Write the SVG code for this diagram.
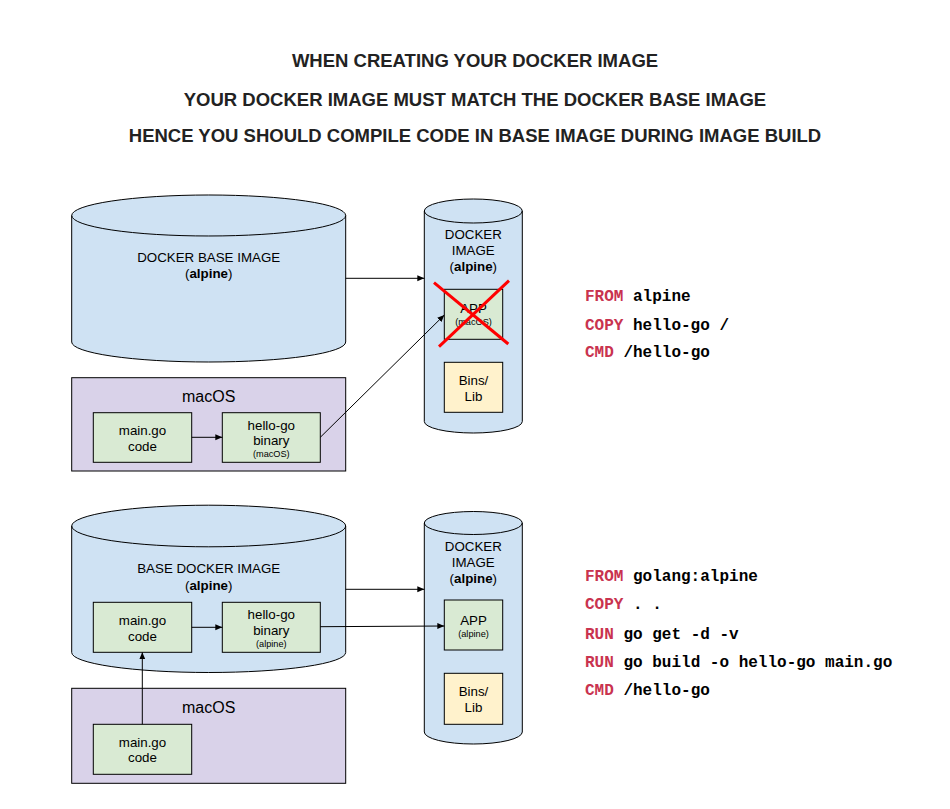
<svg xmlns="http://www.w3.org/2000/svg" width="950" height="809" viewBox="0 0 950 809">
<defs>
<marker id="ah" markerWidth="8" markerHeight="8" refX="7" refY="4" orient="auto" markerUnits="userSpaceOnUse">
<path d="M0,1 L7,4 L0,7 Z" fill="#000"/>
</marker>
<style>
.t{font-family:"Liberation Sans",Arial,sans-serif;fill:#000;text-anchor:middle}
.title{font-family:"Liberation Sans",Arial,sans-serif;font-weight:bold;font-size:18.5px;fill:#222;text-anchor:middle}
.m{font-size:13.33px}
.s{font-size:9.2px}
.l{font-size:16px}
.b{font-weight:bold}
.cyl{fill:#cfe2f3;stroke:#000;stroke-width:1}
.rim{fill:none;stroke:#000;stroke-width:1}
.g{fill:#d9ead3;stroke:#000;stroke-width:1}
.y{fill:#fff2cc;stroke:#000;stroke-width:1}
.p{fill:#d9d2e9;stroke:#000;stroke-width:1}
.c{font-family:"Liberation Mono","Courier New",monospace;font-size:16px;font-weight:bold;fill:#000}
.k{fill:#c9334f}
.con{stroke:#000;stroke-width:1;fill:none;marker-end:url(#ah)}
</style>
</defs>
<rect width="950" height="809" fill="#fff"/>

<g id="titles">
<text class="title" x="475" y="67">WHEN CREATING YOUR DOCKER IMAGE</text>
<text class="title" x="475" y="106">YOUR DOCKER IMAGE MUST MATCH THE DOCKER BASE IMAGE</text>
<text class="title" x="475" y="142">HENCE YOU SHOULD COMPILE CODE IN BASE IMAGE DURING IMAGE BUILD</text>
</g>

<!-- Top section -->
<g id="base1">
<path class="cyl" d="M71.7,215.5 A137,20.5 0 0 1 345.7,215.5 L345.7,342 A137,20 0 0 1 71.7,342 Z"/>
<path class="rim" d="M71.7,215.5 A137,20.5 0 0 0 345.7,215.5"/>
<text class="t m" x="208.7" y="262">DOCKER BASE IMAGE</text>
<text class="t m" x="208.7" y="278">(<tspan class="b">alpine</tspan>)</text>
</g>
<g id="macos1">
<rect class="p" x="71.7" y="377.7" width="274" height="93.3"/>
<text class="t l" x="208.7" y="402">macOS</text>
</g>
<g id="main1">
<rect class="g" x="93.3" y="412.7" width="98.4" height="49.6"/>
<text class="t m" x="142.5" y="435">main.go</text>
<text class="t m" x="142.5" y="450.7">code</text>
</g>
<g id="hello1">
<rect class="g" x="222.3" y="412.7" width="98" height="49.6"/>
<text class="t m" x="271.3" y="429.7">hello-go</text>
<text class="t m" x="271.3" y="445.3">binary</text>
<text class="t s" x="271.3" y="456.7">(macOS)</text>
</g>
<g id="docker1">
<path class="cyl" d="M424.3,211 A49,12 0 0 1 522.3,211 L522.3,421.5 A49,11.5 0 0 1 424.3,421.5 Z"/>
<path class="rim" d="M424.3,211 A49,12 0 0 0 522.3,211"/>
<text class="t m" x="473.3" y="239.3">DOCKER</text>
<text class="t m" x="473.3" y="255">IMAGE</text>
<text class="t m" x="473.3" y="270.7">(<tspan class="b">alpine</tspan>)</text>
</g>
<g id="app1">
<rect class="g" x="444.3" y="289.3" width="58.4" height="50"/>
<text class="t m" x="473.5" y="313.3">APP</text>
<text class="t s" x="473.5" y="325">(macOS)</text>
<line x1="434" y1="282.7" x2="508.3" y2="344" stroke="#f00" stroke-width="3"/>
<line x1="509" y1="280.7" x2="439" y2="346.7" stroke="#f00" stroke-width="3"/>
</g>
<g id="bins1">
<rect class="y" x="444.3" y="362.3" width="58.4" height="50"/>
<text class="t m" x="473.5" y="384.7">Bins/</text>
<text class="t m" x="473.5" y="400.7">Lib</text>
</g>
<g id="code1">
<text class="c" x="585" y="300.7"><tspan class="k">FROM</tspan> alpine</text>
<text class="c" x="585" y="330"><tspan class="k">COPY</tspan> hello-go /</text>
<text class="c" x="585" y="357.3"><tspan class="k">CMD</tspan> /hello-go</text>
</g>

<!-- Bottom section -->
<g id="base2">
<path class="cyl" d="M71.7,526 A137,20.8 0 0 1 345.7,526 L345.7,652.5 A137,20 0 0 1 71.7,652.5 Z"/>
<path class="rim" d="M71.7,526 A137,20.8 0 0 0 345.7,526"/>
<text class="t m" x="208.7" y="573.3">BASE DOCKER IMAGE</text>
<text class="t m" x="208.7" y="589.5">(<tspan class="b">alpine</tspan>)</text>
</g>
<g id="main2">
<rect class="g" x="93.3" y="602.3" width="98.4" height="50"/>
<text class="t m" x="142.5" y="625">main.go</text>
<text class="t m" x="142.5" y="640.5">code</text>
</g>
<g id="hello2">
<rect class="g" x="222.3" y="602.3" width="98" height="50"/>
<text class="t m" x="271.3" y="619">hello-go</text>
<text class="t m" x="271.3" y="635">binary</text>
<text class="t s" x="271.3" y="646.7">(alpine)</text>
</g>
<g id="macos2">
<rect class="p" x="71.7" y="688.3" width="274" height="95"/>
<text class="t l" x="208.7" y="713.3">macOS</text>
</g>
<g id="main3">
<rect class="g" x="93.3" y="724.3" width="98.4" height="50"/>
<text class="t m" x="142.5" y="746.7">main.go</text>
<text class="t m" x="142.5" y="762.3">code</text>
</g>
<g id="docker2">
<path class="cyl" d="M424.3,523 A49,11.5 0 0 1 522.3,523 L522.3,732 A49,12 0 0 1 424.3,732 Z"/>
<path class="rim" d="M424.3,523 A49,11.5 0 0 0 522.3,523"/>
<text class="t m" x="473.3" y="550.7">DOCKER</text>
<text class="t m" x="473.3" y="566.7">IMAGE</text>
<text class="t m" x="473.3" y="582.7">(<tspan class="b">alpine</tspan>)</text>
</g>
<g id="app2">
<rect class="g" x="444.3" y="600" width="58.4" height="50"/>
<text class="t m" x="473.5" y="625">APP</text>
<text class="t s" x="473.5" y="637.3">(alpine)</text>
</g>
<g id="bins2">
<rect class="y" x="444.3" y="673.3" width="58.4" height="51"/>
<text class="t m" x="473.5" y="696">Bins/</text>
<text class="t m" x="473.5" y="712">Lib</text>
</g>
<g id="code2">
<text class="c" x="585" y="580.7"><tspan class="k">FROM</tspan> golang:alpine</text>
<text class="c" x="585" y="609.3"><tspan class="k">COPY</tspan> . .</text>
<text class="c" x="585" y="639"><tspan class="k">RUN</tspan> go get -d -v</text>
<text class="c" x="585" y="666.7"><tspan class="k">RUN</tspan> go build -o hello-go main.go</text>
<text class="c" x="585" y="695"><tspan class="k">CMD</tspan> /hello-go</text>
</g>

<g id="connectors">
<line class="con" x1="345.7" y1="278.3" x2="424.3" y2="278.3"/>
<line class="con" x1="191.7" y1="437.3" x2="222.3" y2="437.3"/>
<line class="con" x1="320.3" y1="437.3" x2="444.3" y2="315"/>
<line class="con" x1="345.7" y1="589.3" x2="424.3" y2="589.3"/>
<line class="con" x1="191.7" y1="627.3" x2="222.3" y2="627.3"/>
<line class="con" x1="320.3" y1="626.7" x2="444.3" y2="626"/>
<line class="con" x1="142.3" y1="724.3" x2="142.3" y2="652.3"/>
</g>
</svg>
